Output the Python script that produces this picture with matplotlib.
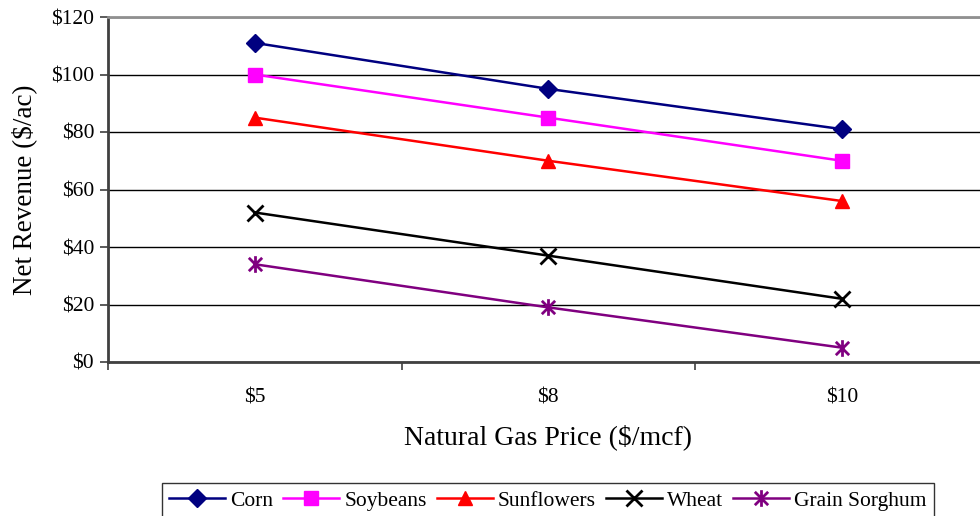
import matplotlib.pyplot as plt
from matplotlib.path import Path
from matplotlib.ticker import FixedLocator, FuncFormatter

plt.rcParams['font.family'] = ['Liberation Serif', 'DejaVu Serif']

prices = ['$5', '$8', '$10']
corn = [111, 95, 81]
soybeans = [100, 85, 70]
sunflowers = [85, 70, 56]
wheat = [52, 37, 22]
sorghum = [34, 19, 5]

# asterisk marker: an X with a vertical bar through it
star = Path([(-1, -1), (1, 1), (-1, 1), (1, -1), (0, -1.25), (0, 1.25)],
            [Path.MOVETO, Path.LINETO, Path.MOVETO, Path.LINETO, Path.MOVETO, Path.LINETO])

fig = plt.figure(figsize=(9.8, 5.16), dpi=100)
ax = fig.add_axes([108 / 980, 154 / 516, 880.5 / 980, 345 / 516])

x = [1, 2, 3]
lw = 1.8
a, = ax.plot(x, corn, '-D', color='#000080', lw=lw, ms=9, label='Corn')
b, = ax.plot(x, soybeans, '-s', color='#FF00FF', lw=lw, ms=10.5, label='Soybeans')
c, = ax.plot(x, sunflowers, '-^', color='#FF0000', lw=lw, ms=10.5, label='Sunflowers')
d, = ax.plot(x, wheat, '-x', color='black', lw=lw, ms=11, mew=2, label='Wheat')
e, = ax.plot(x, sorghum, '-', marker=star, color='#800080', lw=lw, ms=12, mew=2,
             label='Grain Sorghum')

ax.set_xlim(0.5, 3.5)
ax.set_ylim(0, 120)
ax.set_yticks(range(0, 121, 20))
ax.yaxis.set_major_formatter(FuncFormatter(lambda v, p: '$%d' % v))
ax.set_xticks(x)
ax.set_xticklabels(prices)
ax.xaxis.set_minor_locator(FixedLocator([0.5, 1.5, 2.5, 3.5]))
ax.tick_params(axis='x', which='major', length=0, pad=19, labelsize=15.5)
ax.tick_params(axis='x', which='minor', length=6, width=1.2, color='#404040')
ax.tick_params(axis='y', length=6, width=1.2, color='#404040', labelsize=15.5, pad=4)

ax.grid(axis='y', color='black', lw=1)
ax.set_axisbelow(True)
for side in ['left', 'bottom']:
    ax.spines[side].set_color('#404040')
    ax.spines[side].set_linewidth(2)
ax.spines['top'].set_color('#909090')
ax.spines['top'].set_linewidth(2)
ax.spines['right'].set_visible(False)

ax.set_ylabel('Net Revenue ($/ac)', fontsize=19.5, labelpad=10)
ax.set_xlabel('Natural Gas Price ($/mcf)', fontsize=20, labelpad=12)

leg = fig.legend(handles=[a, b, c, d, e], loc='upper center', ncol=5,
                 bbox_to_anchor=(548 / 980, 1 - 483 / 516), borderaxespad=0,
                 fontsize=15.5, frameon=True, fancybox=False, edgecolor='black',
                 handlelength=2.6, handletextpad=0.25, columnspacing=0.45,
                 borderpad=0.35)
leg.get_frame().set_linewidth(1)

fig.savefig('out.png', dpi=100)
